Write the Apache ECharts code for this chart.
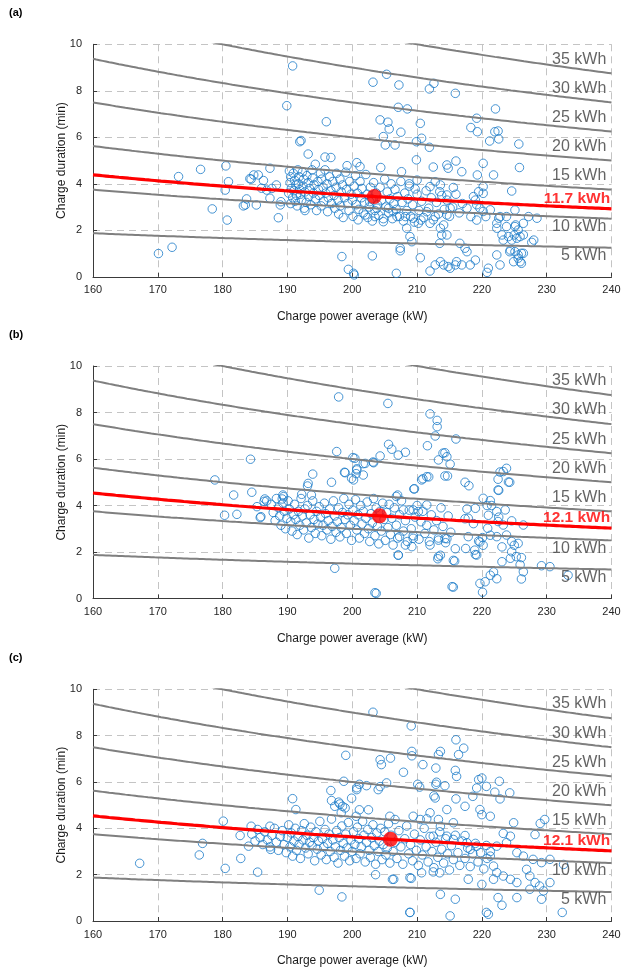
<!DOCTYPE html>
<html>
<head>
<meta charset="utf-8">
<script src="https://cdn.jsdelivr.net/npm/echarts@6/dist/echarts.min.js"></script>
<style>
  html, body { margin: 0; padding: 0; background: #fff; }
  #chart { width: 625px; height: 968px; }
</style>
</head>
<body>
<div id="chart"></div>
<script>
// Iso-energy levels drawn as grey guide curves (duration = energy / power)
const energyLevels = [5, 10, 15, 20, 25, 30, 35];
// Mean energy per session and mean charge power for each panel
const meanEnergy = [11.7, 12.1, 12.1];
const meanPower = [203.4, 204.2, 205.9];
const panelTags = ['(a)', '(b)', '(c)'];
const xTitle = 'Charge power average (kW)';
const yTitle = 'Charge duration (min)';

// Sessions: [charge power average (kW), charge duration (min)]
const sessionsA = [
  [190.8,9.07],[189.9,7.36],[196.0,6.67],[191.9,5.81],[192.1,5.86],[193.2,5.28],[195.8,5.15],[196.7,5.13],[194.3,4.84],[199.2,4.78],
  [173.2,4.31],[176.6,4.62],[180.5,4.77],[180.9,4.09],[180.4,3.73],[178.4,2.92],[180.7,2.44],[170.1,1.0],[172.2,1.27],[184.2,4.22],
  [184.8,4.38],[185.5,4.38],[184.4,4.2],[186.3,4.14],[187.3,4.67],[186.0,3.81],[186.8,3.73],[187.6,3.8],[188.3,3.95],[187.3,3.38],
  [183.7,3.35],[183.5,3.09],[185.2,3.09],[183.2,3.05],[189.0,3.23],[188.9,3.09],[188.6,2.54],[192.7,2.85],[198.4,0.87],[199.4,0.32],[200.2,0.15],
  [212.5,4.72],
  [205.3,8.71],[203.2,8.37],[207.2,8.25],[211.9,8.08],[212.6,8.32],[215.9,7.89],[207.1,7.29],[208.5,7.22],[222.1,7.22],[204.3,6.75],
  [205.5,6.65],[205.7,6.36],[207.5,6.22],[210.5,6.6],[219.2,6.82],[218.3,6.42],[219.3,6.24],[222.0,6.24],[222.5,6.27],[221.2,5.84],
  [222.6,5.93],[204.8,6.03],[205.1,5.67],[206.6,5.67],[209.9,5.81],[210.7,5.96],[211.9,5.57],[225.7,5.71],[209.9,5.03],[214.6,4.81],
  [216.0,4.98],[214.8,4.67],[216.9,4.52],[219.3,4.38],[220.2,4.88],[221.8,4.38],[225.8,4.70],[207.6,4.52],[204.4,4.70],[200.7,4.91],
  [201.2,4.74],[210.0,4.16],[224.6,3.69],[212.8,4.09],[213.6,3.95],[212.0,3.88],[220.2,3.88],[219.5,3.66],[208.8,4.0],[209.7,3.78],
  [219.0,3.30],[219.7,2.95],[220.6,2.59],[219.2,2.44],[217.7,2.95],[218.3,2.59],[225.1,2.87],[223.8,2.59],[222.6,2.52],[223.8,2.16],
  [225.2,2.23],[225.6,2.01],[226.4,1.80],[222.3,2.09],[223.1,1.80],[223.3,1.58],[224.1,1.73],[225.0,1.80],[227.7,1.48],[228.5,2.52],
  [215.1,2.95],[214.6,2.66],[214.1,2.23],[213.6,2.09],[214.6,1.80],[212.8,2.59],[212.0,2.30],[210.6,2.44],[211.5,2.80],[206.9,2.59],
  [208.2,2.59],[209.4,2.52],[210.2,2.30],[208.4,2.09],[208.9,1.73],[207.4,1.23],[204.8,2.37],[205.6,2.95],[206.3,2.80],[202.7,3.23],
  [203.8,2.95],[202.0,2.66],[203.5,2.59],[203.1,0.90],[207.4,1.12],[209.2,1.51],[210.5,0.82],
  [212.0,0.25],[212.8,0.51],[213.6,0.65],[214.1,0.51],[214.8,0.44],[215.1,0.37],[215.9,0.51],[216.1,0.65],[216.9,0.51],[217.7,1.08],
  [218.2,0.51],[219.0,0.72],[222.3,0.94],[222.8,0.51],[221.0,0.37],[220.8,0.19],[224.3,1.08],[225.6,0.94],[226.4,1.01],[225.9,0.65],
  [224.9,0.65],[206.8,0.15],[200.3,0.08],[216.6,1.44],[217.4,1.23],[213.5,1.44],[213.8,1.8],
  [215.6,3.84],[213.5,3.66],[214.6,3.52],[218.7,3.45],[220.2,3.59],[219.2,3.1],[220.2,2.81],[221.3,2.88],[222.8,2.59],[222.3,2.3],
  [225.1,2.16],[225.9,1.73],[225.4,1.66],[224.6,1.58],[224.4,1.15],[225.1,1.08],[226.1,1.01],[225.6,0.80],[226.1,0.58],[227.2,2.59],
  [226.4,2.30],[228.0,1.58],
  [190.3,4.55],[190.5,4.3],[190.4,4.05],[190.6,3.8],[190.2,3.6],[190.8,3.4],[190.5,3.15],[190.9,4.45],[191.1,4.15],[191.3,3.95],
  [191.0,3.7],[191.4,3.5],[191.2,3.25],[191.6,4.6],[191.8,4.3],[191.7,4.0],[191.9,3.75],[191.5,3.05],[192.0,3.55],[192.2,3.3],
  [192.3,4.5],[192.5,4.2],[192.4,3.9],[192.7,3.65],[192.9,3.2],[192.6,2.95],[193.0,4.35],[193.2,4.05],[193.4,3.8],[193.3,3.45],
  [193.6,3.1],[193.8,4.6],[193.9,4.25],[194.1,3.95],[194.0,3.6],[194.3,3.35],[194.5,2.85],[194.7,4.1],[194.8,3.75],[194.9,3.5],
  [195.1,4.45],[195.3,4.2],[195.2,3.05],[195.5,3.85],[195.6,3.25],[195.8,4.6],[195.9,3.6],[196.1,4.0],[196.3,3.4],[196.2,2.8],
  [196.5,4.3],[196.7,3.7],[196.8,3.15],[197.0,4.1],[197.2,3.5],[197.3,2.95],[197.5,3.85],[197.6,4.45],[197.8,3.3],[197.9,2.7],
  [198.1,4.2],[198.3,3.65],[198.2,3.05],[198.5,3.95],[198.6,2.55],[198.8,3.4],[199.0,4.5],[199.1,3.75],[199.3,3.15],[199.5,2.85],
  [199.6,4.1],[199.8,3.55],[200.0,3.3],[200.1,2.6],[200.3,3.9],[200.5,4.35],[200.6,3.1],[200.8,3.6],[200.9,2.45],[201.0,2.9],
  [201.2,4.1],[201.4,3.4],[201.5,3.8],[201.7,2.75],[201.9,3.2],[202.1,4.4],[202.3,3.55],[202.4,2.55],[202.6,3.0],[202.8,3.85],
  [203.0,3.35],[203.1,2.4],[203.3,4.05],[203.5,2.85],[203.7,3.6],[203.9,3.1],[204.1,2.65],[204.3,3.85],[204.5,3.3],[204.8,2.5],
  [205.0,4.2],[205.2,3.0],[205.4,3.65],[205.6,2.75],[205.8,3.35],[206.0,4.0],[206.2,2.5],[206.4,3.15],[206.6,3.75],[206.8,2.9],
  [207.0,3.45],[207.3,2.6],[207.5,4.1],[207.7,3.2],[207.9,2.4],[208.1,3.6],[208.4,2.85],[208.6,3.35],[208.8,3.9],[209.0,2.6],
  [209.3,3.1],[209.6,2.35],[210.0,3.55],[210.3,2.85],[210.7,3.25],[211.0,2.55],[211.4,3.7],[211.8,2.95],[212.2,3.4],[212.5,2.45],
  [213.0,3.2],[213.3,2.7],[213.8,3.5],[214.2,2.9],[214.6,3.3],[215.0,2.6],[215.5,3.0],[216.0,3.55],[216.5,2.75],[217.0,3.15]
];

const sessionsB = [
  [197.9,8.67],[197.6,6.32],[184.3,5.99],[178.8,5.10],[193.9,5.35],[193.2,4.95],[193.1,4.84],[196.8,5.0],[198.8,5.43],[199.9,5.17],
  [200.1,6.06],[181.7,4.45],[184.5,4.57],[186.5,4.28],[186.8,4.2],[186.4,4.18],[180.3,3.58],[182.2,3.62],[185.3,3.95],[185.8,3.48],
  [185.9,3.52],[189.3,4.45],[189.4,4.38],[189.2,4.28],[192.2,4.48],[193.7,4.45],[197.3,1.30],
  [198.9,5.41],[200.7,5.58],[201.7,5.80],[203.2,5.87],[200.6,5.37],[209.6,4.72],[210.9,5.15],[211.8,5.23],[214.3,5.27],[206.8,4.39],
  [203.5,0.25],[207.1,1.86],[213.2,1.71],[213.6,1.86],
  [205.5,8.39],[212.0,7.94],[213.1,7.66],[213.1,7.39],[212.8,6.99],[211.6,6.57],[216.0,6.86],[205.6,6.63],[206.1,6.42],[207.1,6.17],
  [208.2,6.29],[204.3,6.13],[214.0,6.25],[214.6,6.10],[214.3,6.27],[213.3,5.96],[215.1,5.78],[214.7,5.27],[200.4,6.03],[200.7,5.53],
  [202.0,5.81],[203.3,5.84],[200.2,5.10],[201.7,5.31],[211.5,5.24],[210.7,5.10],[209.5,4.71],[217.4,5.0],[218.0,4.85],[222.5,5.13],
  [223.8,5.6],[223.3,5.46],[224.3,5.0],[222.5,4.67],[220.2,4.31],[221.3,4.21],[220.8,4.0],[217.7,3.85],[219.0,3.88],[217.9,3.45],
  [207.0,4.45],[211.5,4.02],[207.9,3.81],[209.4,3.81],[210.2,3.74],[222.3,3.74],[223.6,3.81],[222.5,3.31],[224.6,3.34],[223.3,3.16],
  [226.4,3.16],[207.3,2.66],[209.4,2.59],[208.2,2.30],[209.2,2.23],[212.0,2.30],[213.3,2.51],[214.3,2.58],[207.1,1.87],[213.3,1.80],
  [215.8,1.61],[217.5,2.15],[218.9,2.08],[219.2,1.87],[219.5,2.47],[220.1,2.62],[217.9,2.66],[220.9,3.02],[222.3,2.66],[223.1,2.22],
  [223.8,2.73],[224.6,2.01],[225.0,2.29],[225.6,2.37],[225.3,1.80],[226.1,1.76],[224.4,1.73],[223.1,1.58],[229.2,1.41],[230.5,1.37],
  [233.3,1.0],[226.4,1.15],[226.1,0.84],[215.4,0.51],[219.7,0.65],[220.5,0.72],[221.3,1.0],[220.1,0.27],[203.7,0.22],
  [222.8,5.44],[224.1,5.01],[222.6,4.65],[221.5,4.0],[217.4,3.43],[218.7,3.22],[221.0,3.58],[222.6,3.5],[214.6,2.57],[215.9,2.14],
  [215.6,1.64],[219.0,1.89],[219.7,2.43],[220.2,2.29],[221.3,2.72],[221.8,1.14],[222.3,0.85],[215.6,0.49],[224.6,2.45],[225.9,1.45],
  [187.5,4.05],[187.8,3.7],[188.1,3.35],[188.3,4.3],[188.6,3.9],[188.8,3.55],[189.0,3.15],[189.3,4.1],[189.5,3.75],[189.7,3.0],
  [189.9,3.45],[190.1,4.2],[190.3,3.85],[190.5,3.3],[190.7,2.9],[190.9,3.6],[191.1,4.05],[191.3,3.4],[191.5,2.75],[191.7,3.75],
  [191.9,3.15],[192.1,4.3],[192.3,3.55],[192.5,2.95],[192.7,3.85],[192.9,3.25],[193.1,4.0],[193.3,2.6],[193.5,3.6],[193.7,3.05],
  [193.9,4.2],[194.1,3.4],[194.3,2.8],[194.5,3.75],[194.7,3.2],[194.9,3.95],[195.1,3.5],[195.3,2.7],[195.5,3.15],[195.7,4.1],
  [195.9,3.65],[196.1,2.95],[196.3,3.35],[196.5,3.85],[196.7,2.55],[196.9,3.1],[197.1,4.2],[197.3,3.55],[197.5,2.85],[197.7,3.3],
  [197.9,3.9],[198.1,2.65],[198.3,3.05],[198.5,3.7],[198.7,4.3],[198.9,3.4],[199.1,2.8],[199.3,3.6],[199.5,4.05],[199.7,3.15],
  [199.9,2.5],[200.1,3.8],[200.3,3.35],[200.5,4.25],[200.7,2.95],[200.9,3.6],[201.1,2.6],[201.3,4.0],[201.5,3.2],[201.7,3.75],
  [201.9,2.8],[202.1,3.45],[202.3,4.15],[202.5,3.0],[202.7,2.45],[202.9,3.65],[203.1,3.25],[203.3,4.3],[203.5,2.7],[203.7,3.9],
  [203.9,3.1],[204.1,2.35],[204.3,3.75],[204.5,2.9],[204.7,4.1],[204.9,3.4],[205.1,2.5],[205.3,3.7],[205.5,3.05],[205.7,4.05],
  [205.9,2.75],[206.1,3.45],[206.3,2.3],[206.5,3.9],[206.8,3.15],[207.0,2.6],[207.3,3.6],[207.6,4.2],[207.9,2.9],[208.2,3.35],
  [208.5,2.45],[208.8,3.8],[209.1,3.0],[209.4,2.7],[209.7,3.5],[210.0,4.0],[210.3,2.55],[210.6,3.3],[210.9,3.75],[211.2,2.8],
  [211.5,3.15],[211.9,2.45],[212.2,3.6],[212.6,2.95],[213.0,3.35],[213.3,2.6],[213.7,3.9],[214.0,3.1],[214.4,2.4],[214.8,3.55],
  [215.2,2.85]
];

const sessionsC = [
  [199.0,7.15],[198.7,6.03],[190.8,5.28],[191.3,4.81],[196.7,5.63],[196.8,5.2],[197.9,5.13],[198.5,4.95],[180.1,4.31],[184.4,4.09],
  [182.7,3.69],[176.9,3.35],[176.4,2.85],[182.8,2.70],[184.0,3.23],[185.4,2.11],[187.4,3.09],[187.3,4.09],[167.2,2.49],[180.4,2.27],
  [194.9,1.33],[198.4,1.04],
  [198.1,5.05],[198.9,4.88],[198.3,4.67],[197.3,4.95],[199.9,5.3],[200.7,5.75],[201.1,5.9],[204.3,5.8],[210.1,5.9],[212.6,5.4],
  [212.9,5.9],[201.1,4.8],[202.5,4.8],[200.6,4.52],[208.9,0.37],[203.6,2.0],[206.2,1.8],[209.1,1.84],[210.7,2.08],[212.5,2.12],[213.5,2.08],
  [203.2,9.01],[209.1,8.42],[216.0,7.82],[217.2,7.46],[216.4,7.18],[213.6,7.32],[213.3,7.18],[209.2,7.32],[209.2,7.13],[205.9,7.03],
  [204.3,6.96],[204.5,6.75],[207.9,6.42],[210.9,6.75],[212.9,6.6],[215.9,6.5],[216.1,6.24],[219.5,6.1],[220.0,6.17],[219.2,5.74],
  [220.7,5.81],[222.7,6.03],[224.3,5.53],[222.8,5.27],[222.0,5.56],
  [205.3,5.96],[204.0,5.67],[202.2,5.84],[200.7,5.67],[210.4,5.78],[213.0,5.99],[214.3,5.84],[212.8,5.31],[216.0,5.27],[218.6,5.38],
  [217.4,4.95],[214.6,4.81],[212.0,4.67],[213.3,4.38],[213.6,4.09],[215.6,4.24],[220.0,4.59],[219.7,4.81],[221.3,4.52],[224.9,4.24],
  [228.2,3.73],[229.0,4.21],[229.7,4.38],[224.4,3.66],[223.3,3.78],[205.8,4.52],[206.6,4.38],[209.4,4.52],[210.5,4.38],[211.5,4.41],
  [212.5,3.66],[214.6,3.66],[215.6,3.52],[217.4,3.69],[217.7,3.38],[218.2,3.09],[219.2,3.23],[220.7,3.26],[222.3,3.23],[223.8,3.38],
  [225.4,2.95],[226.4,2.80],[227.9,2.66],[229.2,2.52],[230.5,2.66],[232.6,2.44],[221.3,2.80],[221.8,2.37],[222.3,2.09],[223.3,1.94],
  [224.4,1.80],[225.4,1.66],[226.9,2.23],[227.4,1.94],[228.2,1.66],[228.9,1.51],[229.5,1.30],[230.5,1.66],[221.8,1.80],[220.0,1.58],
  [217.9,1.80],[215.9,0.94],[213.6,1.15],[222.5,1.01],[223.1,0.68],[225.4,1.01],[227.4,1.37],[229.2,0.94],[220.7,0.37],[221.0,0.29],
  [215.1,0.22],[208.9,0.37],[232.4,0.37],[206.4,1.80],[208.9,1.87],
  [184.5,3.75],[185.0,3.45],[185.4,3.95],[185.8,3.6],[186.2,3.3],[186.5,3.85],[186.9,3.5],[187.3,3.2],[187.6,3.7],[188.0,4.0],
  [188.3,3.4],[188.6,3.05],[188.9,3.65],[189.2,3.9],[189.5,3.3],[189.8,2.95],
  [190.0,3.6],[190.2,4.15],[190.4,3.2],[190.6,3.8],[190.8,2.8],[191.0,3.45],[191.2,4.0],[191.4,3.05],[191.6,3.65],[191.8,3.3],
  [192.0,2.7],[192.2,3.9],[192.4,3.5],[192.6,4.2],[192.8,3.15],[193.0,3.7],[193.2,2.9],[193.4,3.4],[193.6,4.05],[193.8,3.25],
  [194.0,3.6],[194.2,2.6],[194.4,3.85],[194.6,3.1],[194.8,3.45],
  [195.0,4.3],[195.2,2.85],[195.4,3.55],[195.6,3.2],[195.8,3.95],[196.0,2.65],[196.2,3.35],[196.4,3.75],[196.6,3.0],[196.8,4.4],
  [197.0,3.5],[197.2,2.75],[197.4,3.2],[197.6,3.9],[197.8,2.5],[198.0,3.6],[198.2,3.05],[198.4,4.1],[198.6,3.35],[198.8,2.8],
  [199.0,3.75],[199.2,3.15],[199.4,4.25],[199.6,2.6],[199.8,3.5],
  [200.0,3.0],[200.2,3.85],[200.4,3.3],[200.6,2.7],[200.8,4.05],[201.0,3.55],[201.2,2.9],[201.4,3.2],[201.6,4.3],[201.8,3.7],
  [202.0,2.55],[202.2,3.4],[202.4,3.95],[202.6,3.05],[202.8,2.75],[203.0,3.6],[203.2,4.15],[203.4,3.25],[203.6,2.45],[203.8,3.8],
  [204.0,3.0],[204.2,3.45],[204.4,4.0],[204.6,2.65],[204.8,3.3],
  [205.0,3.85],[205.2,2.85],[205.4,3.15],[205.6,4.2],[205.8,2.5],[206.0,3.7],[206.3,3.0],[206.6,3.4],[206.9,2.7],[207.2,3.9],
  [207.5,3.2],[207.8,2.45],[208.1,3.55],[208.4,4.1],[208.7,2.9],[209.0,3.3],[209.3,2.6],[209.6,3.75],[209.9,3.05],
  [210.2,2.4],[210.5,3.5],[210.8,2.85],[211.1,4.0],[211.4,3.2],[211.7,2.55],[212.0,3.65],[212.3,3.0],[212.6,2.3],[212.9,3.4],
  [213.2,2.75],[213.5,3.85],[213.8,3.1],[214.1,2.5],[214.4,3.55],[214.7,2.9],[215.0,2.2],[215.3,3.25],[215.6,2.65],[215.9,3.7],
  [216.3,2.95],[216.6,2.4],[217.0,3.45],[217.4,2.7],[217.8,3.15],[218.2,2.35],[218.6,2.9],[219.0,3.35],[219.4,2.55],[219.8,2.95],
  [220.3,2.25],[220.8,2.7],[221.3,3.0]
];

const sessions = [sessionsA, sessionsB, sessionsC];

// ---- layout / styling ----
const FONT = '"Liberation Sans", Arial, sans-serif';
const gridTops = [44.3, 366, 689.3];
const PLOT_LEFT = 93, PLOT_W = 518.5, PLOT_H = 232.5;
const X_MIN = 160, X_MAX = 240, Y_MIN = 0, Y_MAX = 10;
const LABEL_X = 239.2;      // where the iso-energy labels end
const MEAN_LABEL_X = 239.8;

function isoCurve(e) {
  const pts = [];
  for (let p = X_MIN; p <= X_MAX; p += 0.5) pts.push([p, e * 60 / p]);
  return pts;
}

const grid = [], xAxis = [], yAxis = [], series = [], graphic = [];

gridTops.forEach((top, i) => {
  grid.push({ left: PLOT_LEFT, top: top, width: PLOT_W, height: PLOT_H, containLabel: false });
  const splitLine = { show: true, lineStyle: { color: '#c4c4c4', type: [7, 5], width: 1 } };
  xAxis.push({
    gridIndex: i, type: 'value', min: X_MIN, max: X_MAX, interval: 10,
    name: xTitle, nameLocation: 'middle', nameGap: 34,
    nameTextStyle: { fontFamily: FONT, fontSize: 12, color: '#1a1a1a' },
    axisLine: { show: true, lineStyle: { color: '#3a3a3a', width: 1 } },
    axisTick: { show: true, inside: true, length: 4, lineStyle: { color: '#3a3a3a' } },
    axisLabel: { fontFamily: FONT, fontSize: 11, color: '#262626', margin: 8 },
    splitLine: splitLine
  });
  yAxis.push({
    gridIndex: i, type: 'value', min: Y_MIN, max: Y_MAX, interval: 2,
    name: yTitle, nameLocation: 'middle', nameGap: 25, nameRotate: 90,
    nameMoveOverlap: false,
    nameTextStyle: { fontFamily: FONT, fontSize: 12, color: '#1a1a1a' },
    axisLine: { show: true, lineStyle: { color: '#3a3a3a', width: 1 } },
    axisTick: { show: true, inside: true, length: 4, lineStyle: { color: '#3a3a3a' } },
    axisLabel: { fontFamily: FONT, fontSize: 11, color: '#262626', margin: 11 },
    splitLine: splitLine
  });

  // session scatter
  series.push({
    type: 'scatter', xAxisIndex: i, yAxisIndex: i, z: 2,
    symbol: 'circle', symbolSize: 8.5,
    itemStyle: { color: 'rgba(0,0,0,0)', borderColor: '#1a7bc8', borderWidth: 1 },
    data: sessions[i], silent: true
  });

  // iso-energy curves and their labels
  energyLevels.forEach(e => {
    series.push({
      type: 'line', xAxisIndex: i, yAxisIndex: i, z: 3, showSymbol: false, silent: true,
      lineStyle: { color: '#7f7f7f', width: 2 }, clip: true,
      data: isoCurve(e)
    });
    series.push({
      type: 'scatter', xAxisIndex: i, yAxisIndex: i, z: 4, symbolSize: 0, silent: true,
      data: [[LABEL_X, e * 60 / LABEL_X]],
      label: {
        show: true, position: 'left', distance: 0,
        offset: [0, e <= 10 ? 8 : -13.5],
        formatter: e + ' kWh', fontFamily: FONT, fontSize: 16, color: '#3d3d3d'
      }
    });
  });

  // mean energy curve, mean point and label
  const me = meanEnergy[i];
  series.push({
    type: 'line', xAxisIndex: i, yAxisIndex: i, z: 5, showSymbol: false, silent: true,
    lineStyle: { color: '#ff0000', width: 3.2 }, data: isoCurve(me)
  });
  series.push({
    type: 'scatter', xAxisIndex: i, yAxisIndex: i, z: 6, silent: true,
    symbol: 'circle', symbolSize: 15, itemStyle: { color: '#ff0000' },
    data: [[meanPower[i], me * 60 / meanPower[i]]]
  });
  series.push({
    type: 'scatter', xAxisIndex: i, yAxisIndex: i, z: 6, symbolSize: 0, silent: true,
    data: [[MEAN_LABEL_X, me * 60 / MEAN_LABEL_X]],
    label: {
      show: true, position: 'left', distance: 0, offset: [0, -10.5],
      formatter: me.toFixed(1) + ' kWh', fontFamily: FONT, fontSize: 15.5,
      fontWeight: 'bold', color: '#ff0000'
    }
  });

  graphic.push({
    type: 'text', left: 9, top: top - 37,
    style: { text: panelTags[i], font: 'bold 11px ' + FONT, fill: '#000' }
  });
});

const chart = echarts.init(document.getElementById('chart'), null, { renderer: 'canvas' });
chart.setOption({
  animation: false,
  backgroundColor: '#ffffff',
  grid, xAxis, yAxis, series, graphic
});
</script>
</body>
</html>
